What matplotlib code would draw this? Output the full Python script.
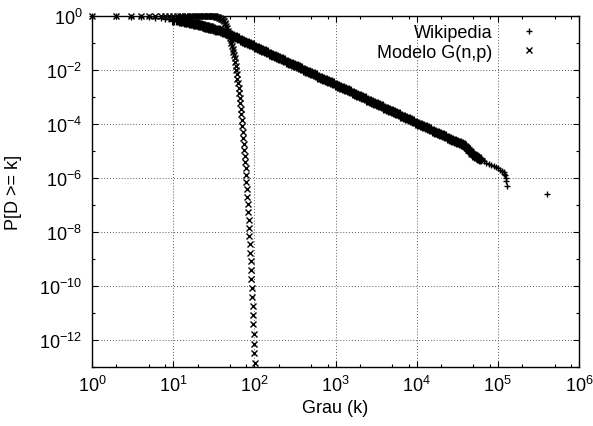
import numpy as np
import matplotlib
matplotlib.use('Agg')
import matplotlib.pyplot as plt
from matplotlib.ticker import FixedLocator, LogFormatterSciNotation, NullFormatter

plt.rcParams['font.family'] = ['Liberation Sans', 'DejaVu Sans']
plt.rcParams['mathtext.fontset'] = 'custom'
plt.rcParams['mathtext.rm'] = 'Liberation Sans'
plt.rcParams['mathtext.it'] = 'Liberation Sans:italic'
plt.rcParams['mathtext.bf'] = 'Liberation Sans:bold'

# Wikipedia: grau k (inteiros) e log10 P[D >= k]
wiki_k_low = [1, 2, 3, 4, 5, 6, 7, 8, 9, 10, 11, 12, 13, 14, 15, 16, 17, 18, 19, 20,
              21, 22, 23, 24, 25, 26, 27, 28, 29, 30]
wiki_logp_low = [0.0, -0.010, -0.020, -0.032, -0.045, -0.059, -0.075, -0.093, -0.115, -0.140,
                 -0.160, -0.180, -0.199, -0.217, -0.234, -0.251, -0.267, -0.283, -0.298, -0.313,
                 -0.329, -0.345, -0.360, -0.375, -0.390, -0.404, -0.418, -0.432, -0.446, -0.460]

# Wikipedia: log10 k e log10 P[D >= k] para graus altos (faixa densa)
wiki_logk_high = [1.50, 1.53, 1.56, 1.59, 1.62, 1.65, 1.68, 1.71, 1.74, 1.77,
                  1.80, 1.83, 1.86, 1.89, 1.92, 1.95, 1.98, 2.01, 2.04, 2.07,
                  2.10, 2.13, 2.16, 2.19, 2.22, 2.25, 2.28, 2.31, 2.34, 2.37,
                  2.40, 2.43, 2.46, 2.49, 2.52, 2.55, 2.58, 2.61, 2.64, 2.67,
                  2.70, 2.73, 2.76, 2.79, 2.82, 2.85, 2.88, 2.91, 2.94, 2.97,
                  3.00, 3.03, 3.06, 3.09, 3.12, 3.15, 3.18, 3.21, 3.24, 3.27,
                  3.30, 3.33, 3.36, 3.39, 3.42, 3.45, 3.48, 3.51, 3.54, 3.57,
                  3.60, 3.63, 3.66, 3.69, 3.72, 3.75, 3.78, 3.81, 3.84, 3.87,
                  3.90, 3.93, 3.96, 3.99, 4.02, 4.05, 4.08, 4.11, 4.14, 4.17,
                  4.20, 4.23, 4.26, 4.29, 4.32, 4.35, 4.38, 4.41, 4.44, 4.47,
                  4.50, 4.53, 4.56, 4.58, 4.60, 4.62, 4.64, 4.66, 4.68, 4.70,
                  4.72, 4.74, 4.76, 4.78]
wiki_logp_high = [-0.485, -0.510, -0.536, -0.561, -0.596, -0.635, -0.674, -0.713, -0.752, -0.791,
                  -0.830, -0.874, -0.917, -0.961, -1.004, -1.048, -1.091, -1.134, -1.177, -1.219,
                  -1.262, -1.305, -1.347, -1.390, -1.432, -1.475, -1.518, -1.560, -1.603, -1.645,
                  -1.688, -1.731, -1.773, -1.816, -1.858, -1.901, -1.944, -1.986, -2.029, -2.071,
                  -2.114, -2.157, -2.199, -2.242, -2.284, -2.327, -2.370, -2.412, -2.455, -2.497,
                  -2.540, -2.583, -2.625, -2.668, -2.710, -2.753, -2.796, -2.838, -2.881, -2.923,
                  -2.966, -3.009, -3.051, -3.094, -3.136, -3.179, -3.222, -3.264, -3.307, -3.349,
                  -3.392, -3.435, -3.477, -3.520, -3.562, -3.605, -3.648, -3.690, -3.733, -3.775,
                  -3.818, -3.861, -3.903, -3.946, -3.988, -4.031, -4.074, -4.116, -4.159, -4.201,
                  -4.244, -4.287, -4.329, -4.372, -4.414, -4.457, -4.500, -4.542, -4.585, -4.627,
                  -4.670, -4.710, -4.750, -4.770, -4.820, -4.900, -4.970, -5.040, -5.090, -5.130,
                  -5.170, -5.210, -5.250, -5.290]

# Wikipedia: cauda esparsa
wiki_logk_tail = [4.80, 4.83, 4.86, 4.89, 4.92, 4.95, 4.98, 5.00, 5.03, 5.05,
                  5.07, 5.08, 5.09, 5.10, 5.105, 5.107, 5.60]
wiki_logp_tail = [-5.330, -5.380, -5.440, -5.480, -5.530, -5.570, -5.610, -5.640, -5.700, -5.740,
                  -5.790, -5.840, -5.890, -5.990, -6.110, -6.290, -6.590]

# Modelo G(n,p): grau k e log10 P[D >= k]
modelo_k = list(range(1, 102))
modelo_logp = [0.0, 0.0, 0.0, 0.0, 0.0, 0.0, 0.0, 0.0, 0.0, 0.0,
               0.0, 0.0, 0.0, 0.0, 0.0, 0.0, 0.0, 0.0, 0.0, 0.0,
               0.0, 0.0, 0.0, 0.0, 0.0, 0.0, -0.001, -0.001, -0.002, -0.004,
               -0.007, -0.011, -0.016, -0.023, -0.032, -0.044, -0.059, -0.077, -0.099, -0.126,
               -0.157, -0.200, -0.245, -0.300, -0.360, -0.430, -0.540, -0.620, -0.710, -0.800,
               -0.900, -1.000, -1.100, -1.210, -1.320, -1.440, -1.570, -1.700, -1.840, -2.000,
               -2.160, -2.320, -2.490, -2.670, -2.850, -3.040, -3.230, -3.430, -3.640, -3.850,
               -4.070, -4.290, -4.510, -4.730, -4.950, -5.170, -5.400, -5.640, -5.890, -6.150,
               -6.420, -6.700, -6.980, -7.270, -7.560, -7.850, -8.150, -8.460, -8.770, -9.090,
               -9.410, -9.730, -10.060, -10.390, -10.730, -11.070, -11.420, -11.770, -12.130, -12.490,
               -12.850]

x_major = [1e0, 1e1, 1e2, 1e3, 1e4, 1e5, 1e6]
x_minor = [m * 10.0 ** e for e in range(6) for m in (2, 5, 8)]
y_major = [1e0, 1e-2, 1e-4, 1e-6, 1e-8, 1e-10, 1e-12]
y_minor = [1e-1, 1e-3, 1e-5, 1e-7, 1e-9, 1e-11, 1e-13]

fig = plt.figure(figsize=(5.93, 4.27), dpi=100)
ax = fig.add_axes([92 / 593, 59 / 427, 487 / 593, 351 / 427])

# graus 1-9 e cauda com traco fino, faixa densa com traco mais grosso
ax.plot(wiki_k_low[:9], 10 ** np.array(wiki_logp_low[:9]), ls='none', marker='+', ms=5,
        mew=1.0, color='black', label='Wikipedia', clip_on=False)
wk = np.concatenate([np.array(wiki_k_low[9:], dtype=float), 10 ** np.array(wiki_logk_high)])
wp = 10 ** np.concatenate([np.array(wiki_logp_low[9:]), np.array(wiki_logp_high)])
ax.plot(wk, wp, ls='none', marker='+', ms=7, mew=2.3, color='black',
        label='_nolegend_', clip_on=False)
ax.plot(10 ** np.array(wiki_logk_tail), 10 ** np.array(wiki_logp_tail), ls='none',
        marker='+', ms=5, mew=1.0, color='black', label='_nolegend_', clip_on=False)
ax.plot(modelo_k, 10 ** np.array(modelo_logp), ls='none', marker='x', ms=5, mew=1.0,
        color='black', label='Modelo G(n,p)', clip_on=False)

ax.set_xscale('log')
ax.set_yscale('log')
ax.set_xlim(1, 1e6)
ax.set_ylim(1e-13, 1)

ax.xaxis.set_major_locator(FixedLocator(x_major))
ax.xaxis.set_minor_locator(FixedLocator(x_minor))
ax.yaxis.set_major_locator(FixedLocator(y_major))
ax.yaxis.set_minor_locator(FixedLocator(y_minor))
ax.xaxis.set_major_formatter(LogFormatterSciNotation())
ax.yaxis.set_major_formatter(LogFormatterSciNotation())
ax.xaxis.set_minor_formatter(NullFormatter())
ax.yaxis.set_minor_formatter(NullFormatter())

ax.tick_params(which='both', direction='in', top=True, right=True, color='black', width=0.8)
ax.tick_params(which='major', length=4)
ax.tick_params(which='minor', length=2)
ax.tick_params(axis='x', which='major', pad=6, labelsize=13)
ax.tick_params(axis='y', which='major', pad=7, labelsize=13)

ax.set_axisbelow(True)
ax.grid(True, which='major', color='0.35', linestyle=(0, (1, 2)), linewidth=0.7)
for s in ax.spines.values():
    s.set_linewidth(1.0)

ax.set_xlabel('Grau (k)', fontsize=13)
ax.xaxis.set_label_coords(0.5, -0.092)
ax.set_ylabel('P[D >= k]', fontsize=13)
ax.yaxis.set_label_coords(-0.144, 0.5)

ax.legend(loc='upper right', bbox_to_anchor=(0.9446, 0.9772), markerfirst=False,
          frameon=False, borderpad=0, borderaxespad=0, handlelength=2.5,
          handletextpad=0.8, labelspacing=0.15, fontsize=13)

fig.savefig('out.png', dpi=100)
